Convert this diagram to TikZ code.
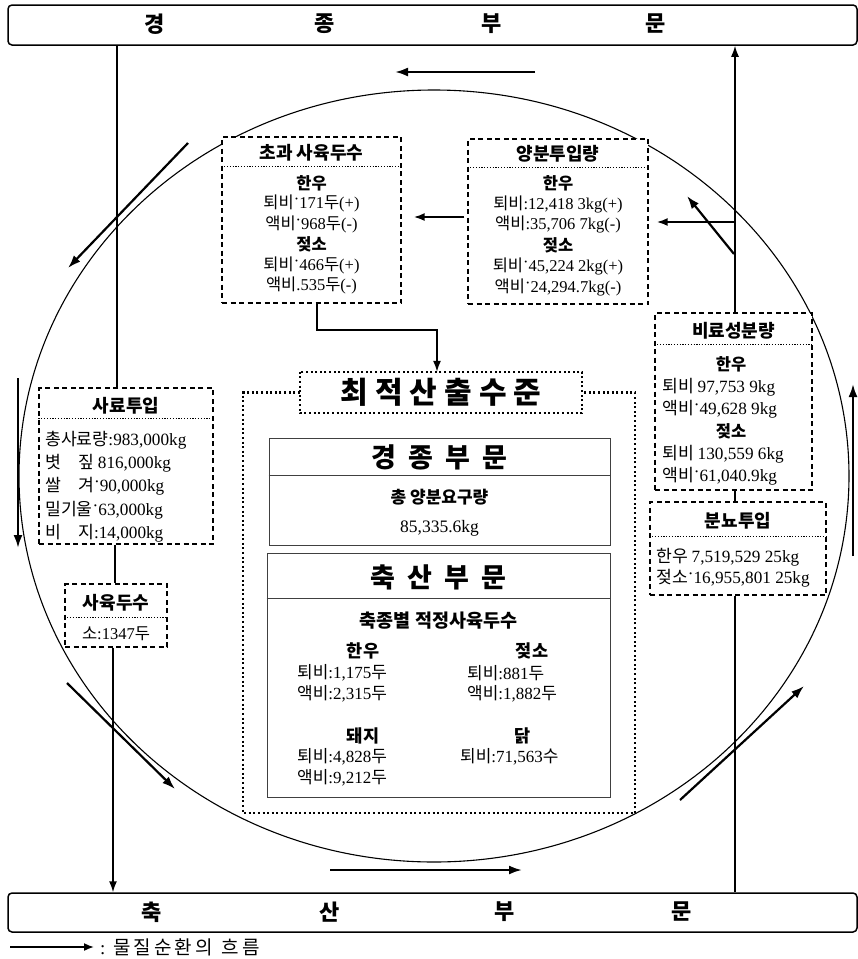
\documentclass[tikz,border=0pt]{standalone}
\usepackage{fontspec}
\setmainfont{Liberation Serif}
\newfontfamily\krfont{Noto Sans CJK KR}
\usetikzlibrary{arrows.meta}
\XeTeXinterchartokenstate=1
\chardef\krclass=7
\count255="AC00
\loop\ifnum\count255<"D7A4
  \XeTeXcharclass\count255=\krclass
  \advance\count255 by 1
\repeat
\XeTeXinterchartoks 0 \krclass = {\krfont}
\XeTeXinterchartoks 4095 \krclass = {\krfont}
\XeTeXinterchartoks \krclass 0 = {\rmfamily}
\XeTeXinterchartoks 4095 0 = {\rmfamily}
\newcommand\rdt{\raisebox{0.45ex}{·}}
\newcommand\kgap{\hskip 7pt}
\newcommand\kgapb{\hskip 12pt}
\newcommand\kgapc{\hskip 3pt}
\tikzset{
  dbox/.style={draw, fill=white, rectangle, inner sep=0pt, line width=1.3pt, dash pattern=on 5pt off 3.5pt},
  dotbox/.style={line width=2.2pt, dash pattern=on 2pt off 2.6pt, line cap=butt},
  sepline/.style={line width=0.7pt, dash pattern=on 1.2pt off 1.6pt},
  inbox/.style={draw=black!75, fill=white, rectangle, inner sep=0pt, line width=0.9pt},
  barbox/.style={draw, rectangle, rounded corners=4pt, line width=1.5pt, inner sep=0pt},
  bartx/.style={inner sep=0pt, font=\fontsize{22}{24}\selectfont\bfseries},
  ttl/.style={inner sep=0pt, font=\fontsize{18}{20}\selectfont\bfseries},
  hdx/.style={inner sep=0pt, font=\fontsize{16.5}{19}\selectfont\bfseries},
  bdx/.style={inner sep=0pt, font=\fontsize{16.5}{19}\selectfont},
  lwx/.style={inner sep=0pt, anchor=west, font=\fontsize{17.2}{19}\selectfont},
  conn/.style={line width=1.5pt},
  tipx/.style={-{Latex[length=11pt,width=8pt]}},
  flowarr/.style={line width=2.2pt, -{Latex[length=13pt,width=9pt]}}
}
\begin{document}
\begin{tikzpicture}[x=1pt,y=-1pt]
\useasboundingbox (0,0) rectangle (858,959);
\fill[white] (0,0) rectangle (858,959);
% cycle
\draw[line width=1.1pt] (434,476) ellipse [x radius=415pt, y radius=386pt];
% bars
\node[barbox, minimum width=849pt, minimum height=40pt] (topbar) at (432.5,25) {};
\node[barbox, minimum width=849pt, minimum height=39pt] (botbar) at (432.5,912.5) {};
\node[bartx] (tb1) at (155,24) {경};
\node[bartx] (tb2) at (325,24) {종};
\node[bartx] (tb3) at (492,24) {부};
\node[bartx] (tb4) at (656,24) {문};
\node[bartx] (bb1) at (152,912) {축};
\node[bartx] (bb2) at (330,912) {산};
\node[bartx] (bb3) at (505,912) {부};
\node[bartx] (bb4) at (682,912) {문};
% flow arrows around the cycle
\coordinate (a1s) at (535,72);  \coordinate (a1e) at (395,72);
\coordinate (a2s) at (188,143); \coordinate (a2e) at (68,268);
\coordinate (a3s) at (18,378);  \coordinate (a3e) at (18,548);
\coordinate (a4s) at (67,683);  \coordinate (a4e) at (175,789);
\coordinate (a5s) at (330,870); \coordinate (a5e) at (522,870);
\coordinate (a6s) at (680,800); \coordinate (a6e) at (804,686);
\coordinate (a7s) at (853,556); \coordinate (a7e) at (853,384);
\coordinate (a8s) at (734,254); \coordinate (a8e) at (687,196);
\draw[flowarr] (a1s) -- (a1e);
\draw[flowarr] (a2s) -- (a2e);
\draw[flowarr] (a3s) -- (a3e);
\draw[flowarr] (a4s) -- (a4e);
\draw[flowarr] (a5s) -- (a5e);
\draw[flowarr] (a6s) -- (a6e);
\draw[flowarr] (a7s) -- (a7e);
\draw[flowarr] (a8s) -- (a8e);
% boxes
\node[dbox, minimum width=179pt, minimum height=166pt] (chogwa) at (311.5,220) {};
\draw[sepline] ([yshift=-30pt]chogwa.north west) -- ([yshift=-30pt]chogwa.north east);
\node[ttl] (cg0) at (311.5,153) {초과 사육두수};
\node[hdx] (cg1) at (311.5,183) {한우};
\node[bdx] (cg2) at (311.5,203.5) {퇴비\rdt 171두(+)};
\node[bdx] (cg3) at (311.5,224) {액비\rdt 968두(-)};
\node[hdx] (cg4) at (311.5,244.5) {젖소};
\node[bdx] (cg5) at (311.5,265) {퇴비\rdt 466두(+)};
\node[bdx] (cg6) at (311.5,285.5) {액비.535두(-)};

\node[dbox, minimum width=180pt, minimum height=165pt] (yangbun) at (558,221.5) {};
\draw[sepline] ([yshift=-29pt]yangbun.north west) -- ([yshift=-29pt]yangbun.north east);
\node[ttl] (yb0) at (558,154) {양분투입량};
\node[hdx] (yb1) at (558,183) {한우};
\node[bdx] (yb2) at (558,204) {퇴비:12,418 3kg(+)};
\node[bdx] (yb3) at (558,224.5) {액비:35,706 7kg(-)};
\node[hdx] (yb4) at (558,245) {젖소};
\node[bdx] (yb5) at (558,266) {퇴비\rdt 45,224 2kg(+)};
\node[bdx] (yb6) at (558,287) {액비\rdt 24,294.7kg(-)};

\node[dbox, minimum width=174pt, minimum height=156pt] (saryo) at (126,466) {};
\draw[sepline] ([yshift=-31pt]saryo.north west) -- ([yshift=-31pt]saryo.north east);
\node[ttl] (sr0) at (126,406) {사료투입};
\node[lwx] (sr1) at (45,440) {총사료량:983,000kg};
\node[lwx] (sr2) at (45,463) {볏\hspace{1em}짚 816,000kg};
\node[lwx] (sr3) at (45,486) {쌀\hspace{1em}겨\rdt 90,000kg};
\node[lwx] (sr4) at (45,510) {밀기울\rdt 63,000kg};
\node[lwx] (sr5) at (45,533) {비\hspace{1em}지:14,000kg};

\node[dbox, minimum width=102pt, minimum height=63pt] (sayuk) at (116,615.5) {};
\draw[sepline] ([yshift=-34pt]sayuk.north west) -- ([yshift=-34pt]sayuk.north east);
\node[ttl] (sy0) at (116,603) {사육두수};
\node[bdx] (sy1) at (116,634) {소:1347두};

\node[dbox, minimum width=157pt, minimum height=177pt] (biryo) at (733.5,401.5) {};
\draw[sepline] ([yshift=-32pt]biryo.north west) -- ([yshift=-32pt]biryo.north east);
\node[ttl] (br0) at (733.5,331) {비료성분량};
\node[hdx] (br1) at (731,364) {한우};
\node[lwx] (br2) at (662,387) {퇴비 97,753 9kg};
\node[lwx] (br3) at (662,409) {액비\rdt 49,628 9kg};
\node[hdx] (br4) at (731,431) {젖소};
\node[lwx] (br5) at (662,454) {퇴비 130,559 6kg};
\node[lwx] (br6) at (662,476) {액비\rdt 61,040.9kg};

\node[dbox, minimum width=176pt, minimum height=93pt] (bunnyo) at (738,548.5) {};
\draw[sepline] ([yshift=-35pt]bunnyo.north west) -- ([yshift=-35pt]bunnyo.north east);
\node[ttl] (bn0) at (738,521) {분뇨투입};
\node[lwx] (bn1) at (656,557) {한우 7,519,529 25kg};
\node[lwx] (bn2) at (656,578) {젖소\rdt 16,955,801 25kg};

% optimum output frame
\node[inner sep=0pt, minimum width=282pt, minimum height=41pt, font=\fontsize{30}{32}\selectfont\bfseries] (ctitle) at (441,392.5) {최\kgap 적\kgap 산\kgap 출\kgap 수\kgap 준};
\draw[dotbox] (ctitle.north west) rectangle (ctitle.south east);
\coordinate (fr1) at (243,813);
\coordinate (fr2) at (635,813);
\draw[dotbox] (ctitle.west) -| (fr1) -- (fr2) |- (ctitle.east);

\node[inbox, minimum width=341pt, minimum height=107pt] (gyeong) at (439.5,491.5) {};
\draw[black!75, line width=0.9pt] ([yshift=-38pt]gyeong.north west) -- ([yshift=-38pt]gyeong.north east);
\node[inner sep=0pt, font=\fontsize{27}{29}\selectfont\bfseries] (gj0) at (439.5,457) {경\kgapb 종\kgapb 부\kgapb 문};
\node[inner sep=0pt, font=\fontsize{17}{19}\selectfont\bfseries] (gj1) at (439.5,497) {총 양분요구량};
\node[inner sep=0pt, font=\fontsize{17.5}{19}\selectfont] (gj2) at (439.5,528) {85,335.6kg};

\node[inbox, minimum width=343pt, minimum height=244pt] (chuk) at (438.5,675) {};
\draw[black!75, line width=0.9pt] ([yshift=-46pt]chuk.north west) -- ([yshift=-46pt]chuk.north east);
\node[inner sep=0pt, font=\fontsize{27}{29}\selectfont\bfseries] (cs0) at (438.5,577) {축\kgapb 산\kgapb 부\kgapb 문};
\node[inner sep=0pt, font=\fontsize{18.5}{20}\selectfont\bfseries] (cs1) at (438.5,621) {축종별 적정사육두수};
\tikzset{cbd/.style={inner sep=0pt, anchor=west, font=\fontsize{17}{19}\selectfont},
         chd/.style={inner sep=0pt, font=\fontsize{17.5}{19}\selectfont\bfseries}}
\node[chd] (h1) at (363,651) {한우};
\node[cbd] (h2) at (297,673) {퇴비:1,175두};
\node[cbd] (h3) at (297,694) {액비:2,315두};
\node[chd] (j1) at (532,651) {젖소};
\node[cbd] (j2) at (467,673) {퇴비:881두};
\node[cbd] (j3) at (467,694) {액비:1,882두};
\node[chd] (d1) at (363,736) {돼지};
\node[cbd] (d2) at (297,757) {퇴비:4,828두};
\node[cbd] (d3) at (297,778) {액비:9,212두};
\node[chd] (k1) at (523,736) {닭};
\node[cbd] (k2) at (460,757) {퇴비:71,563수};

% connectors
\coordinate (xL) at (117,0);
\coordinate (xL2) at (115,0);
\coordinate (xL3) at (113,0);
\coordinate (xR) at (735,0);
\coordinate (xC) at (317,0);
\coordinate (xD) at (437,0);
\coordinate (yC) at (0,330);
\coordinate (yA) at (0,222);
\coordinate (yB) at (0,217);
\draw[conn] (saryo.north -| xL) -- (topbar.south -| xL);
\draw[conn] (saryo.south -| xL2) -- (sayuk.north -| xL2);
\draw[conn, tipx] (sayuk.south -| xL3) -- (botbar.north -| xL3);
\draw[conn, tipx] (biryo.north -| xR) -- (topbar.south -| xR);
\draw[conn] (bunnyo.north -| xR) -- (biryo.south -| xR);
\draw[conn] (bunnyo.south -| xR) -- (botbar.north -| xR);
\draw[conn, tipx, line width=2pt, shorten >=8pt] (xR |- yA) -- (yangbun.east |- yA);
\draw[conn, tipx, line width=2pt, shorten <=3pt, shorten >=12pt] (yangbun.west |- yB) -- (chogwa.east |- yB);
\draw[conn, tipx] (chogwa.south -| xC) |- (xD |- yC) -- (ctitle.north -| xD);

% legend
\coordinate (lgs) at (10,947);
\node[inner sep=0pt, anchor=west, font=\fontsize{19}{21}\selectfont] (lgt) at (100,947) {:\hskip 8pt 물\kgapc 질\kgapc 순\kgapc 환\kgapc 의\hskip 9pt 흐\kgapc 름};
\draw[line width=1.6pt, -{Latex[length=10pt,width=8pt]}] (lgs) -- ([xshift=-6pt]lgt.west);
\end{tikzpicture}
\end{document}
